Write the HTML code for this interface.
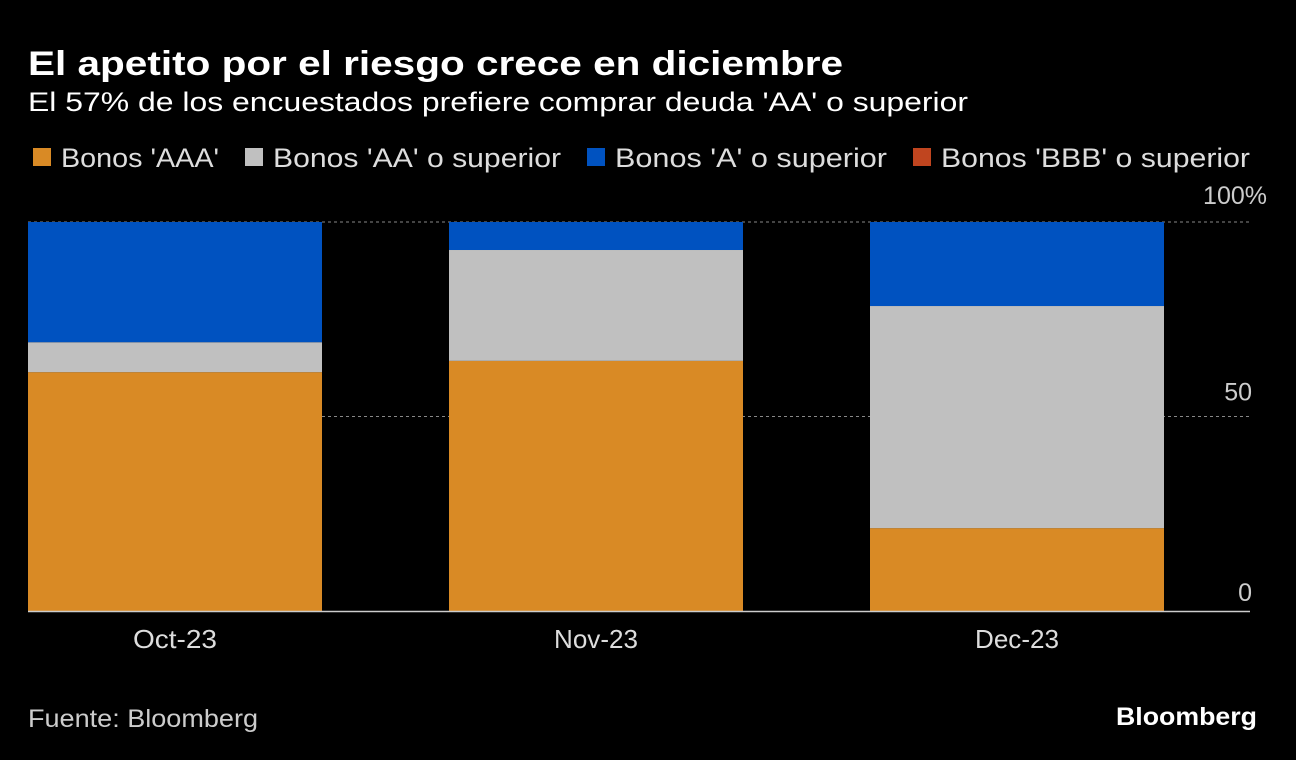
<!DOCTYPE html>
<html><head><meta charset="utf-8"><style>
body{margin:0;background:#000;width:1296px;height:760px;overflow:hidden;font-family:"Liberation Sans",sans-serif;color:#fff}
svg{position:absolute;left:0;top:0}
</style></head><body>
<svg width="1296" height="760" id="c">
<text x="28" y="75" font-size="34" font-weight="bold" fill="#fff" textLength="815" lengthAdjust="spacingAndGlyphs">El apetito por el riesgo crece en diciembre</text>
<text x="28" y="111" font-size="27" fill="#fff" textLength="940" lengthAdjust="spacingAndGlyphs">El 57% de los encuestados prefiere comprar deuda 'AA' o superior</text>
<g font-size="27" fill="#ddd" lengthAdjust="spacingAndGlyphs">
<rect x="33" y="148" width="18" height="18" fill="#d98a25"/>
<text x="61" y="167" textLength="158" lengthAdjust="spacingAndGlyphs">Bonos 'AAA'</text>
<rect x="245" y="148" width="18" height="18" fill="#c0c0c0"/>
<text x="273" y="167" textLength="288" lengthAdjust="spacingAndGlyphs">Bonos 'AA' o superior</text>
<rect x="587" y="148" width="18" height="18" fill="#0052c0"/>
<text x="615" y="167" textLength="272" lengthAdjust="spacingAndGlyphs">Bonos 'A' o superior</text>
<rect x="913" y="148" width="18" height="18" fill="#c0451f"/>
<text x="941" y="167" textLength="309" lengthAdjust="spacingAndGlyphs">Bonos 'BBB' o superior</text>
</g>
<g id="grid"></g><g id="bars"></g><g id="axes"></g>
<text x="28" y="727" font-size="25" fill="#ccc" textLength="230" lengthAdjust="spacingAndGlyphs">Fuente: Bloomberg</text>
<text x="1116" y="725" font-size="25" font-weight="bold" fill="#fff" textLength="141" lengthAdjust="spacingAndGlyphs">Bloomberg</text>
</svg>
<script>
const categories=["Oct-23","Nov-23","Dec-23"];
const aaa=[61.4,64.3,21.3];
const aa=[7.7,28.5,57.1];
const a=[30.9,7.2,21.6];
const bbb=[0,0,0];
const ticks=[0,50,100];
const tickLabels=["0","50","100%"];
const NS="http://www.w3.org/2000/svg";
const y0=611,y100=222,xL=28,xR=1250,barW=294,step=421;
const y=v=>y0-(v/100)*(y0-y100);
const x=i=>xL+i*step;
function mk(p,t,at){const e=document.createElementNS(NS,t);for(const k in at)e.setAttribute(k,at[k]);p.appendChild(e);return e;}
const grid=document.getElementById('grid'),bars=document.getElementById('bars'),axes=document.getElementById('axes');
ticks.forEach((t,i)=>{
 if(t>0){const l=mk(grid,'line',{x1:xL,x2:xR,y1:y(t),y2:y(t),stroke:'#888','stroke-dasharray':'3,3','stroke-width':1});
 
 }
 const tx=mk(axes,'text',{x:(t==100?1267:1252),y:y(t)-16+(t==0?6:0)+(t==100?-2:0),'font-size':25,fill:'#ccc','text-anchor':'end'});
 tx.textContent=tickLabels[i];
 
 
});
const series=[[aaa,'#d98a25','aaa'],[aa,'#c0c0c0','aa'],[a,'#0052c0','a'],[bbb,'#c0451f','bbb']];
categories.forEach((c,i)=>{
 let base=0;
 series.forEach(([vals,col,n])=>{
  const v=vals[i];if(v<=0)return;
  const r=mk(bars,'rect',{x:x(i),y:y(base+v),width:barW,height:y(base)-y(base+v),fill:col});
  
  
  base+=v;
 });
 const t=mk(axes,'text',{x:x(i)+barW/2,y:648,'font-size':26,fill:'#ddd','text-anchor':'middle',textLength:84,lengthAdjust:'spacingAndGlyphs'});
 t.textContent=c;
 
 
});
const bl=mk(axes,'line',{x1:xL,x2:xR,y1:y0+0.5,y2:y0+0.5,stroke:'#ccc','stroke-width':1.5});


</script>
</body></html>
